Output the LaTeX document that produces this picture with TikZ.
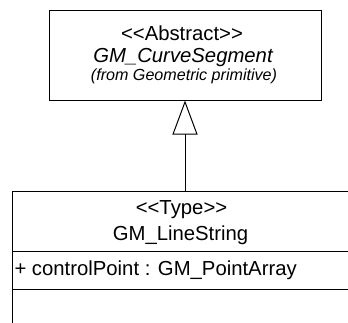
\documentclass[tikz,border=0pt]{standalone}
\usepackage{fontspec}
\setmainfont{Liberation Sans}
\usetikzlibrary{arrows.meta}
\newcommand{\llq}{\textless\kern0pt\textless}
\newcommand{\rrq}{\textgreater\kern0pt\textgreater}
\begin{document}
\begin{tikzpicture}[x=1pt,y=-1pt,line width=1pt,
  big/.style={font=\fontsize{20.3}{24}\selectfont,anchor=base,inner sep=0pt},
  small/.style={font=\fontsize{16.1}{19}\selectfont\itshape,anchor=base,inner sep=0pt},
  classbox/.style={draw,rectangle,inner sep=0pt},
  gen/.style={-{Triangle[open,length=34pt,width=25pt]},line join=miter}]
\useasboundingbox (0,0) rectangle (348,322);
\clip (0,0) rectangle (348,322);
\node[classbox,minimum width=272pt,minimum height=90pt] (abs) at (185,55) {};
\node[big] (absst) at (182,40) {\llq Abstract\rrq};
\node[big,font=\fontsize{20.3}{24}\selectfont\itshape] (absname) at (183,62.7) {GM\_CurveSegment};
\node[small] (absfrom) at (184,80.5) {(from Geometric primitive)};
\node[classbox,minimum width=338pt,minimum height=150pt] (ls) at (181,266) {};
\coordinate (d1l) at (12,251);
\coordinate (d1r) at (350,251);
\coordinate (d2l) at (12,289);
\coordinate (d2r) at (350,289);
\draw (d1l) -- (d1r);
\draw (d2l) -- (d2r);
\node[big] (lsst) at (181.5,214) {\llq Type\rrq};
\node[big] (lsname) at (180.5,240) {GM\_LineString};
\node[big,anchor=base west] (lsattr) at (14,275) {+ controlPoint : GM\_PointArray};
\draw[gen] (abs.south |- ls.north) -- (abs.south);
\end{tikzpicture}
\end{document}
